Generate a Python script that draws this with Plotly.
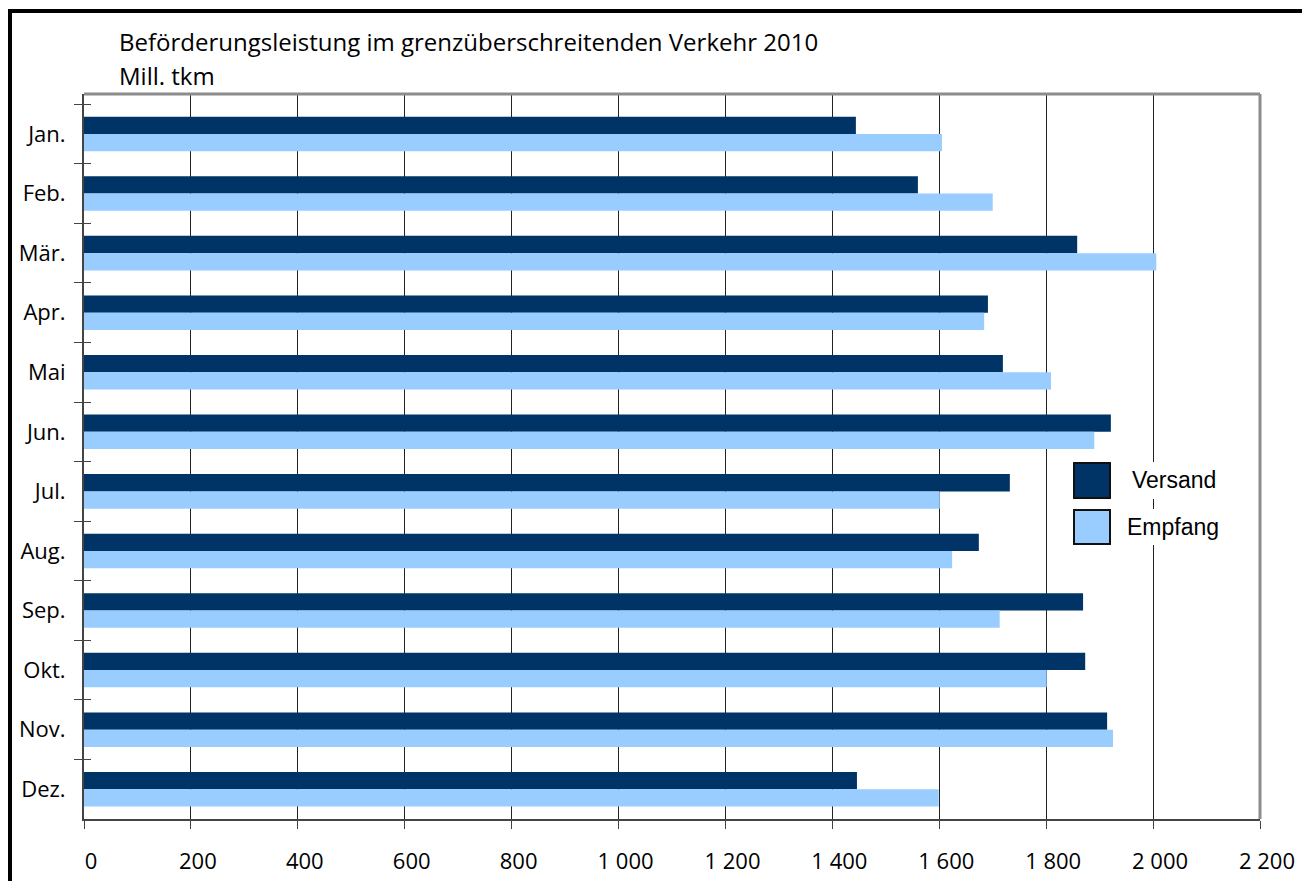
import plotly.graph_objects as go

months = ["Jan.", "Feb.", "Mär.", "Apr.", "Mai", "Jun.", "Jul.", "Aug.", "Sep.", "Okt.", "Nov.", "Dez."]
versand = [1444, 1560, 1858, 1691, 1719, 1921, 1732, 1674, 1869, 1873, 1914, 1446]
empfang = [1605, 1700, 2006, 1684, 1809, 1890, 1601, 1624, 1713, 1801, 1925, 1599]
series_names = ["Versand", "Empfang"]
colors = ["#003366", "#99CCFF"]
title_lines = ["Beförderungsleistung im grenzüberschreitenden Verkehr 2010", "Mill. tkm"]

W, H = 1310, 881
OFF = 8  # page body margin in the browser
# target plot area in screen pixels
SL, ST, SR, SB = 84, 94, 1260, 819
ML, MT = SL - OFF, ST - OFF
MR = W - (SR - OFF)
MB = H - (SB - OFF)
PW = SR - SL
PH = SB - ST


def px_x(p):
    return (p - SL) / PW


def px_y(p):
    return (SB - p) / PH


TICKFONT = dict(family="Open Sans", size=22, color="#000000")

fig = go.Figure()
for name, vals, col in zip(series_names, [versand, empfang], colors):
    fig.add_trace(go.Bar(
        y=months, x=vals, orientation="h", name=name,
        marker=dict(color=col, line=dict(width=0)),
        showlegend=False,
    ))

# invisible trace so the overlay axis (inner tick marks) is drawn
fig.add_trace(go.Scatter(x=[None], y=[months[0]], yaxis="y2", showlegend=False, hoverinfo="skip"))

fig.update_layout(
    width=W, height=H,
    margin=dict(l=ML, r=MR, t=MT, b=MB),
    paper_bgcolor="white", plot_bgcolor="white",
    barmode="group", bargap=0.42, bargroupgap=0,
    separators=", ",
    xaxis=dict(
        range=[0, 2200], dtick=200, tick0=0, tickformat=",d",
        showgrid=True, gridcolor="#222222", gridwidth=1,
        zeroline=False,
        showline=True, linecolor="#444444", linewidth=2,
        ticks="outside", ticklen=8, tickcolor="#444444", tickwidth=1,
        tickfont=TICKFONT, ticklabelstandoff=14, ticklabelshift=7,
    ),
    yaxis=dict(
        type="category", categoryorder="array", categoryarray=months,
        autorange="reversed",
        showgrid=False, zeroline=False,
        showline=True, linecolor="#444444", linewidth=2,
        ticks="outside", tickson="boundaries", ticklen=8, tickcolor="#444444", tickwidth=1,
        tickfont=TICKFONT, ticklabelstandoff=12,
    ),
    yaxis2=dict(
        type="category", categoryorder="array", categoryarray=months,
        autorange="reversed", overlaying="y", side="left", matches="y",
        showgrid=False, zeroline=False, showline=False,
        ticks="inside", tickson="boundaries", ticklen=7, tickcolor="#444444", tickwidth=1,
        showticklabels=False,
    ),
)

shapes = []
shapes.append(dict(type="line", xref="paper", yref="paper", x0=0, x1=1, y0=1, y1=1,
                   line=dict(color="#8c8c8c", width=3), layer="above"))
shapes.append(dict(type="line", xref="paper", yref="paper", x0=1, x1=1, y0=0, y1=1,
                   line=dict(color="#8c8c8c", width=3), layer="above"))

# outer black frame (separate edges; left edge sits at the page margin)
FRAME_L, FRAME_T, FRAME_R, FRAME_B = 10, 11, 1307, 905
for (ax0, ay0, ax1, ay1) in [
    (FRAME_L - 2, FRAME_T, FRAME_R, FRAME_T),
    (FRAME_L, FRAME_T, FRAME_L, FRAME_B),
    (FRAME_R, FRAME_T, FRAME_R, FRAME_B),
]:
    shapes.append(dict(type="line", xref="paper", yref="paper",
                       x0=px_x(ax0), x1=px_x(ax1), y0=px_y(ay0), y1=px_y(ay1),
                       line=dict(color="#000000", width=4), layer="above"))

# manual legend
leg_boxes = [(463, 498, 480), (510, 544, 527)]
leg_text_x = [1174, 1173]
annotations = []
for (y0, y1, yc), name, col, tx in zip(leg_boxes, series_names, colors, leg_text_x):
    shapes.append(dict(type="rect", xref="paper", yref="paper",
                       x0=px_x(1120), x1=px_x(1226), y0=px_y(y1 + 1), y1=px_y(y0 - 1),
                       fillcolor="white", line=dict(width=0), layer="above"))
    shapes.append(dict(type="rect", xref="paper", yref="paper",
                       x0=px_x(1074), x1=px_x(1110), y0=px_y(y1), y1=px_y(y0),
                       fillcolor=col, line=dict(color="#111111", width=2), layer="above"))
    annotations.append(dict(xref="paper", yref="paper", x=px_x(tx), y=px_y(yc),
                            xanchor="center", yanchor="middle", showarrow=False,
                            text=name, font=dict(family="Liberation Sans", size=23, color="#000000")))

title_centers = [42, 75]
for line, yc in zip(title_lines, title_centers):
    annotations.append(dict(xref="paper", yref="paper", x=px_x(117), y=px_y(yc),
                            xanchor="left", yanchor="middle", align="left", showarrow=False,
                            text=line, font=dict(family="Open Sans", size=24, color="#000000")))

fig.update_layout(shapes=shapes, annotations=annotations)
fig.write_html("out.html")
